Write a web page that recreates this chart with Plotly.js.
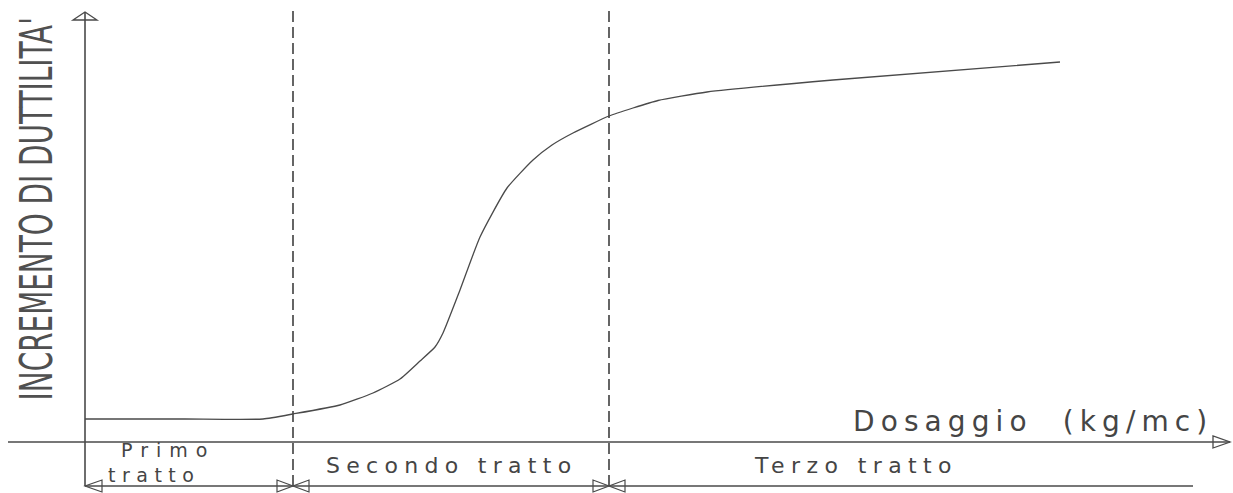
<!DOCTYPE html>
<html>
<head>
<meta charset="utf-8">
<script src="https://cdn.plot.ly/plotly-3.0.1.min.js"></script>
<style>html,body{margin:0;padding:0;background:#fff;}</style>
</head>
<body>
<div id="chart" style="width:1233px;height:493px;"></div>
<script>
// Dosage (arbitrary units from the vertical axis) and ductility increment (arbitrary units)
const dosaggio = [0, 10, 17.8, 20.8, 25.5, 28.8, 31.5, 33.5, 35.0, 35.8, 37.5, 39.5, 42.2, 44.8, 46.7, 48.8, 52.4, 54.8, 57.3, 62.2, 74.8, 97.5];
const duttilita = [2.3, 2.3, 2.3, 2.8, 3.7, 4.9, 6.3, 8.1, 9.5, 10.9, 15.2, 20.5, 25.4, 28.2, 29.7, 30.9, 32.6, 33.4, 34.15, 35.0, 36.2, 38.0];
// Boundaries between the three stretches
const limiti = [20.8, 52.4];
const fineQuota = 110.8;
const tratti = ["Primo", "tratto", "Secondo tratto", "Terzo tratto"];
const titoloY = "INCREMENTO DI DUTTILITA'";
const titoloX = "Dosaggio\u00A0\u00A0(kg/mc)";

const xAxisStart = -7.7, xAxisEnd = 114.5, yAxisTop = 43.0, yAxisBottom = -4.4, dashTop = 43.2, quotaY = -4.4;
const lineCol = '#4a4a4a';
const txtCol = '#454545';

const shapes = [];
// axes
shapes.push({type:'line', xref:'x', yref:'y', x0:xAxisStart, x1:xAxisEnd, y0:0, y1:0, line:{color:lineCol, width:1.4}});
shapes.push({type:'line', xref:'x', yref:'y', x0:0, x1:0, y0:yAxisBottom, y1:yAxisTop, line:{color:lineCol, width:1.6}});
// arrow heads (pixel-sized, anchored on data points)
shapes.push({type:'path', xref:'x', yref:'y', xsizemode:'pixel', ysizemode:'pixel', xanchor:0, yanchor:yAxisTop,
  path:'M -12 -8 L 0 0 L 12 -8 Z', line:{color:lineCol, width:1.3}, fillcolor:'rgba(0,0,0,0)'});
shapes.push({type:'path', xref:'x', yref:'y', xsizemode:'pixel', ysizemode:'pixel', xanchor:xAxisEnd, yanchor:0,
  path:'M -17 -6 L 0 0 L -17 6 Z', line:{color:lineCol, width:1.3}, fillcolor:'rgba(0,0,0,0)'});
// dashed boundaries
limiti.forEach(function(v){
  shapes.push({type:'line', xref:'x', yref:'y', x0:v, x1:v, y0:quotaY, y1:dashTop, line:{color:lineCol, width:1.7, dash:'11px,5px'}});
});
// dimension line
shapes.push({type:'line', xref:'x', yref:'y', x0:0, x1:fineQuota, y0:quotaY, y1:quotaY, line:{color:lineCol, width:1.3}});
// dimension arrows
shapes.push({type:'path', xref:'x', yref:'y', xsizemode:'pixel', ysizemode:'pixel', xanchor:0, yanchor:quotaY,
  path:'M 17 -6 L 0 0 L 17 6 Z', line:{color:lineCol, width:1.2}, fillcolor:'rgba(0,0,0,0)'});
limiti.forEach(function(v){
  shapes.push({type:'path', xref:'x', yref:'y', xsizemode:'pixel', ysizemode:'pixel', xanchor:v, yanchor:quotaY,
    path:'M -16 -6 L 0 0 L -16 6 Z M 16 -6 L 0 0 L 16 6 Z', line:{color:lineCol, width:1.2}, fillcolor:'rgba(0,0,0,0)'});
});

function sp(t, ls){ return '<span style="letter-spacing:' + ls + 'px">' + t + '</span>'; }
const lblFont = {family:'DejaVu Sans', size:22, color:txtCol};
const annotations = [
  {xref:'paper', yref:'y', x:0.0295, y:23.3, text:titoloY, textangle:-90, showarrow:false,
   font:{family:'DejaVu Sans Condensed, DejaVu Sans', size:31, color:'#505050'}, xanchor:'center', yanchor:'middle'},
  {xref:'x', yref:'y', x:94.8, y:2.1, text:sp(titoloX, 6.1), showarrow:false, font:{family:'DejaVu Sans', size:28, color:txtCol}},
  {xref:'x', yref:'y', x:6.9, y:-2.05, text:sp('\u00A0\u00A0' + tratti[0], 8) + '<br>' + sp(tratti[1], 6.5), showarrow:false,
   font:{family:'DejaVu Sans', size:19, color:txtCol}},
  {xref:'x', yref:'y', x:36.6, y:-2.35, text:sp(tratti[2], 6.3), showarrow:false, font:lblFont},
  {xref:'x', yref:'y', x:77.1, y:-2.35, text:sp(tratti[3], 6.4), showarrow:false, font:lblFont}
];

const trace = {x:dosaggio, y:duttilita, type:'scatter', mode:'lines', line:{color:lineCol, width:1.3, shape:'spline', smoothing:0.5}, hoverinfo:'skip'};

const layout = {
  width:1233, height:493,
  margin:{l:0, r:0, t:0, b:0, pad:0},
  paper_bgcolor:'#ffffff', plot_bgcolor:'#ffffff',
  showlegend:false,
  xaxis:{range:[-8.5, 114.8], visible:false, fixedrange:true},
  yaxis:{range:[-5.1, 44.2], visible:false, fixedrange:true},
  shapes:shapes,
  annotations:annotations
};

Plotly.newPlot('chart', [trace], layout, {displayModeBar:false, staticPlot:true}).then(function(gd){
  const t = gd.querySelector('.annotation[data-index="0"] text.annotation-text');
  if (t) {
    t.style.transformBox = 'fill-box';
    t.style.transformOrigin = 'center';
    t.style.transform = 'scaleY(1.45)';
  }
});
</script>
</body>
</html>
